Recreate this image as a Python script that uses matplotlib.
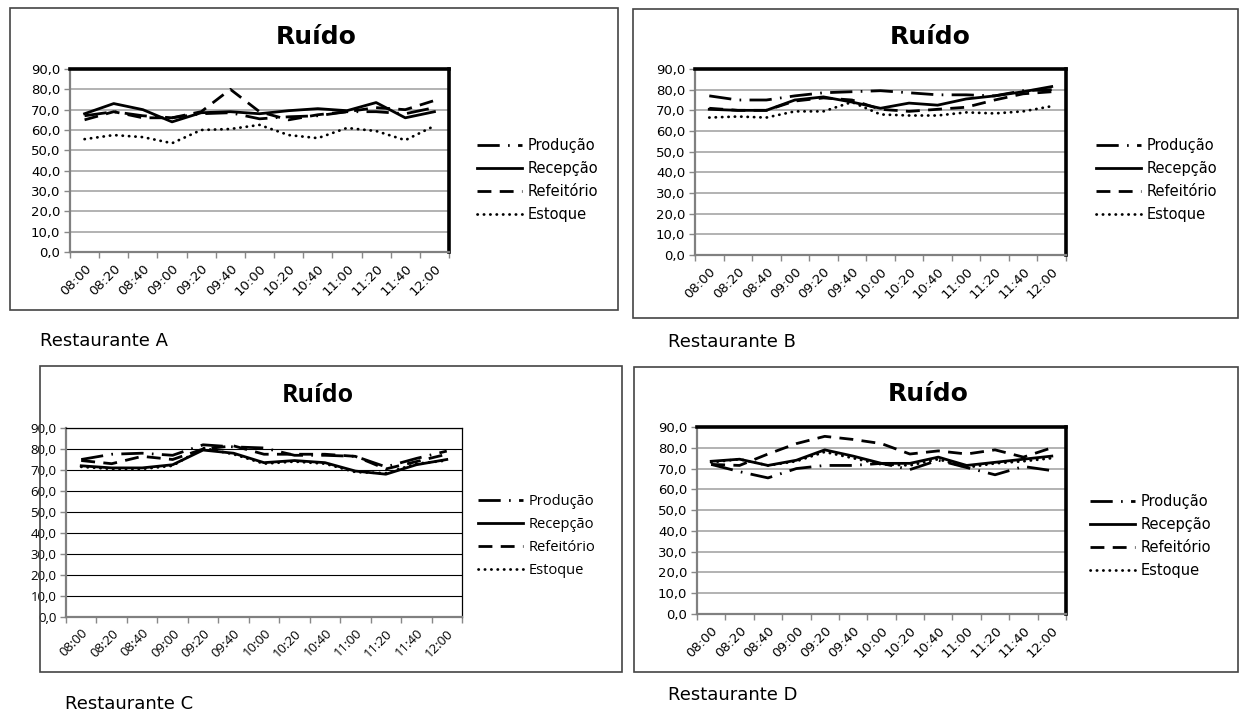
import numpy as np
import matplotlib as mpl
mpl.use('Agg')
import matplotlib.pyplot as plt
from matplotlib.patches import Rectangle
from matplotlib.ticker import FuncFormatter

W, H = 1242, 714

horarios = ['08:00', '08:20', '08:40', '09:00', '09:20', '09:40', '10:00',
            '10:20', '10:40', '11:00', '11:20', '11:40', '12:00']
series_names = ['Produção', 'Recepção', 'Refeitório', 'Estoque']

# Restaurante A
producao_a = [67, 69, 67, 66, 68, 68.5, 65.5, 66.5, 67, 69, 69, 68, 71]
recepcao_a = [68, 73, 70, 64, 68.5, 69, 68, 69.5, 70.5, 69.5, 73.5, 66, 69]
refeitorio_a = [65, 69, 66, 66, 69, 80, 69, 65, 67.5, 69, 71, 70, 74.5]
estoque_a = [55.5, 57.5, 56.5, 53.5, 60, 60.5, 62.5, 57.5, 56, 61, 59.5, 55, 62]

# Restaurante B
producao_b = [77, 75, 75, 77, 78.5, 79, 79.5, 78.5, 77.5, 77.5, 77, 79.5, 80]
recepcao_b = [70.5, 70, 70, 75, 76.5, 74, 71, 73.5, 72.5, 75.5, 77, 79, 81.5]
refeitorio_b = [71, 70, 70, 74.5, 76, 75, 70.5, 69.5, 70.5, 71.5, 75, 78, 79]
estoque_b = [66.5, 67, 66.5, 69.5, 69.5, 74, 68, 67.5, 67.5, 69, 68.5, 69.5, 72]

# Restaurante C
producao_c = [75, 77.5, 78, 77, 82, 81, 80.5, 77, 77, 76.5, 71.5, 75.5, 79]
recepcao_c = [72, 71, 71, 72.5, 79.5, 78, 73.5, 74.5, 73.5, 69.5, 68, 72.5, 75]
refeitorio_c = [74.5, 73, 76.5, 75, 80, 81.5, 77.5, 77.5, 77.5, 76.5, 70.5, 74, 77.5]
estoque_c = [71.5, 70.5, 70.5, 72, 80.5, 77.5, 73, 74, 73, 69, 68.5, 73, 74.5]

# Restaurante D
producao_d = [72, 68.5, 65.5, 70, 71.5, 71.5, 72.5, 69.5, 74, 70.5, 67, 71, 69]
recepcao_d = [73.5, 74.5, 71.5, 74, 79, 76, 72.5, 72.5, 75.5, 71.5, 73, 74.5, 76]
refeitorio_d = [72, 71.5, 77, 82, 85.5, 84, 82, 77, 78.5, 77, 79, 75.5, 80]
estoque_d = [73, 74.5, 71.5, 73.5, 78, 75, 72, 71.5, 74.5, 70.5, 72.5, 73.5, 75]

fig = plt.figure(figsize=(W / 100, H / 100), dpi=100)
fig.patch.set_facecolor('white')


def frac(left, top, right, bottom):
    # pixel box (from top-left) -> figure fraction rect
    return [left / W, 1 - bottom / H, (right - left) / W, (bottom - top) / H]


# line styles: (linestyle, capstyle)
styles = [
    ((0, (8, 3, 0.6, 3)), 'butt'),
    ('-', 'butt'),
    ((0, (5, 3)), 'butt'),
    ((0, (0.1, 2.2)), 'round'),
]


def draw_panel(box, plot, values, caption, cap_xy, title_xy, legend_xy, font, excel2010=False):
    # outer frame of the chart object
    fig.patches.append(Rectangle((box[0] / W, 1 - box[3] / H),
                                 (box[2] - box[0]) / W, (box[3] - box[1]) / H,
                                 transform=fig.transFigure, fill=False,
                                 edgecolor='#444444', linewidth=1.2))

    ax = fig.add_axes(frac(*plot))
    x = np.arange(len(horarios))
    for vals, name, (ls, cap) in zip(values, series_names, styles):
        ax.plot(x, vals, color='black', linewidth=2.0, linestyle=ls,
                dash_capstyle=cap, label=name)

    ax.set_xlim(-0.5, len(horarios) - 0.5)
    ax.set_ylim(0, 90)
    ax.set_yticks(np.arange(0, 91, 10))
    ax.yaxis.set_major_formatter(FuncFormatter(lambda v, p: ('%.1f' % v).replace('.', ',')))
    ax.set_xticks(x)
    ax.set_xticklabels(horarios, rotation=45, ha='right', rotation_mode='anchor')
    ax.set_xticks(np.arange(-0.5, len(horarios)), minor=True)
    ax.tick_params(axis='x', which='major', length=0, pad=7)
    ax.tick_params(axis='x', which='minor', length=4, color='#888888', width=1)
    ax.tick_params(axis='y', length=4, color='#888888', width=1, pad=3)
    for lab in ax.get_xticklabels() + ax.get_yticklabels():
        lab.set_fontfamily(font)
        lab.set_fontsize(9.5)

    if excel2010:
        ax.grid(axis='y', color='black', linewidth=0.8)
        for s in ['top', 'right']:
            ax.spines[s].set_color('black')
            ax.spines[s].set_linewidth(0.9)
    else:
        ax.grid(axis='y', color='#a6a6a6', linewidth=1.2)
        for s in ['top', 'right']:
            ax.spines[s].set_color('black')
            ax.spines[s].set_linewidth(2.6)
    for s in ['left', 'bottom']:
        ax.spines[s].set_color('#808080')
        ax.spines[s].set_linewidth(1.6)
    ax.set_axisbelow(True)

    # title
    fig.text(title_xy[0] / W, 1 - title_xy[1] / H, 'Ruído', ha='center', va='center',
             fontsize=18, fontweight='bold', family=font)

    ax.legend(loc='upper left', bbox_to_anchor=(legend_xy[0] / W, 1 - legend_xy[1] / H),
              bbox_transform=fig.transFigure, frameon=False,
              prop={'family': font, 'size': 10.5}, handlelength=3.1,
              handletextpad=0.35, labelspacing=0.55, borderpad=0, borderaxespad=0)

    fig.text(cap_xy[0] / W, 1 - cap_xy[1] / H, caption, ha='left', va='center',
             fontsize=13, family='DejaVu Sans')
    return ax


draw_panel((10, 8, 618, 310), (70, 69, 449, 252),
           [producao_a, recepcao_a, refeitorio_a, estoque_a],
           'Restaurante A', (40, 341), (316, 37), (477, 138), 'DejaVu Sans')
draw_panel((633, 9, 1238, 318), (695, 69, 1066, 255),
           [producao_b, recepcao_b, refeitorio_b, estoque_b],
           'Restaurante B', (668, 342), (930, 37), (1096, 138), 'DejaVu Sans')
draw_panel((40, 366, 622, 672), (66, 428, 462, 617),
           [producao_c, recepcao_c, refeitorio_c, estoque_c],
           'Restaurante C', (65, 704), (318, 395), (478, 494), 'Open Sans', excel2010=True)
draw_panel((634, 367, 1238, 672), (697, 427, 1066, 614),
           [producao_d, recepcao_d, refeitorio_d, estoque_d],
           'Restaurante D', (668, 695), (928, 394), (1090, 494), 'DejaVu Sans')

fig.savefig('out.png', dpi=100, facecolor='white')
